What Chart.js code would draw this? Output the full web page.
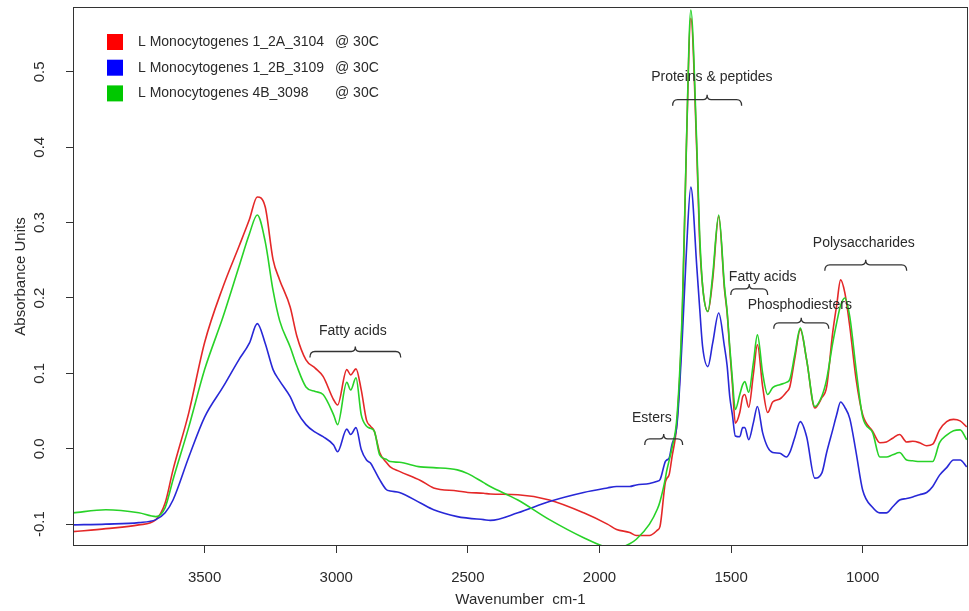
<!DOCTYPE html>
<html lang="en">
<head>
<meta charset="UTF-8">
<title>L Monocytogenes FTIR spectra</title>
<script src="https://cdn.jsdelivr.net/npm/chart.js"></script>
<style>
  html, body { margin: 0; padding: 0; background: #fff; }
  #spectra { display: block; }
</style>
</head>
<body>
<canvas id="spectra" width="969" height="611"></canvas>
<script>
// wavenumbers (cm-1)
const wavenumber = [4000, 3875, 3750, 3685, 3650, 3620, 3560, 3500, 3430, 3370,
  3330, 3300, 3270, 3240, 3215, 3175, 3150, 3115, 3080, 3050,
  3010, 2995, 2960, 2945, 2925, 2905, 2885, 2870, 2855, 2835,
  2810, 2795, 2760, 2680, 2630, 2540, 2500, 2440, 2415, 2310,
  2190, 2060, 1970, 1935, 1885, 1860, 1810, 1780, 1770, 1750,
  1745, 1735, 1725, 1705, 1685, 1670, 1653, 1630, 1620, 1608,
  1588, 1570, 1547, 1525, 1515, 1505, 1495, 1484, 1467, 1456,
  1448, 1433, 1415, 1400, 1380, 1361, 1342, 1315, 1290, 1277,
  1258, 1237, 1213, 1182, 1155, 1137, 1114, 1099, 1084, 1068,
  1049, 1025, 1000, 962, 935, 910, 886, 860, 833, 810,
  784, 757, 734, 708, 681, 655, 630, 605];

const strain2A = [-0.110, -0.106, -0.101, -0.094, -0.072, -0.028, 0.048, 0.141, 0.215, 0.268,
  0.304, 0.334, 0.321, 0.251, 0.224, 0.188, 0.150, 0.118, 0.107, 0.096,
  0.065, 0.058, 0.105, 0.098, 0.106, 0.078, 0.038, 0.030, 0.023, -0.005,
  -0.018, -0.024, -0.030, -0.042, -0.052, -0.056, -0.058, -0.059, -0.060, -0.061,
  -0.068, -0.085, -0.100, -0.107, -0.111, -0.115, -0.115, -0.108, -0.103, -0.045,
  -0.040, -0.034, -0.012, 0.038, 0.180, 0.397, 0.571, 0.391, 0.280, 0.215,
  0.182, 0.224, 0.308, 0.211, 0.180, 0.131, 0.085, 0.034, 0.048, 0.069,
  0.072, 0.055, 0.100, 0.138, 0.082, 0.048, 0.062, 0.066, 0.075, 0.082,
  0.120, 0.158, 0.118, 0.054, 0.068, 0.082, 0.154, 0.190, 0.224, 0.207,
  0.162, 0.092, 0.045, 0.023, 0.008, 0.009, 0.014, 0.019, 0.009, 0.010,
  0.008, 0.004, 0.006, 0.025, 0.036, 0.039, 0.037, 0.029];

const strain2B = [-0.101, -0.100, -0.098, -0.094, -0.085, -0.068, -0.011, 0.042, 0.082, 0.118,
  0.140, 0.166, 0.140, 0.105, 0.090, 0.069, 0.050, 0.032, 0.022, 0.016,
  0.005, -0.004, 0.026, 0.019, 0.028, -0.001, -0.015, -0.019, -0.028, -0.041,
  -0.054, -0.056, -0.058, -0.072, -0.081, -0.090, -0.092, -0.094, -0.095, -0.085,
  -0.070, -0.058, -0.052, -0.050, -0.050, -0.048, -0.046, -0.043, -0.041, -0.017,
  -0.015, -0.012, 0.005, 0.034, 0.150, 0.260, 0.347, 0.240, 0.190, 0.135,
  0.109, 0.140, 0.180, 0.135, 0.110, 0.069, 0.045, 0.017, 0.016, 0.028,
  0.028, 0.012, 0.035, 0.056, 0.021, 0.002, -0.005, -0.006, -0.011, -0.005,
  0.015, 0.036, 0.016, -0.039, -0.032, -0.005, 0.025, 0.045, 0.062, 0.055,
  0.040, -0.005, -0.055, -0.078, -0.085, -0.085, -0.077, -0.068, -0.066, -0.064,
  -0.061, -0.058, -0.050, -0.035, -0.025, -0.015, -0.015, -0.024];

const strain4B = [-0.085, -0.081, -0.085, -0.090, -0.078, -0.041, 0.029, 0.105, 0.175, 0.241,
  0.285, 0.310, 0.275, 0.210, 0.170, 0.135, 0.110, 0.082, 0.076, 0.072,
  0.045, 0.032, 0.088, 0.078, 0.094, 0.045, 0.030, 0.027, 0.023, -0.008,
  -0.014, -0.017, -0.018, -0.024, -0.025, -0.028, -0.033, -0.045, -0.050, -0.068,
  -0.094, -0.118, -0.131, -0.132, -0.126, -0.120, -0.100, -0.080, -0.070, -0.040,
  -0.030, -0.015, 0.000, 0.045, 0.190, 0.400, 0.582, 0.400, 0.290, 0.215,
  0.182, 0.230, 0.310, 0.215, 0.182, 0.135, 0.092, 0.052, 0.072, 0.085,
  0.089, 0.075, 0.115, 0.151, 0.100, 0.072, 0.081, 0.085, 0.088, 0.092,
  0.125, 0.160, 0.118, 0.056, 0.070, 0.092, 0.140, 0.167, 0.190, 0.200,
  0.175, 0.105, 0.042, 0.021, -0.011, -0.011, -0.008, -0.005, -0.015, -0.016,
  -0.017, -0.017, -0.017, 0.008, 0.018, 0.024, 0.025, 0.012];

const seriesNames = ['L Monocytogenes 1_2A_3104 @ 30C',
  'L Monocytogenes 1_2B_3109 @ 30C',
  'L Monocytogenes 4B_3098 @ 30C'];

const xTicks = [1000, 1500, 2000, 2500, 3000, 3500];
const yTicks = [-0.1, 0.0, 0.1, 0.2, 0.3, 0.4, 0.5];

// band labels: text position and bracket span (wavenumber / absorbance)
const bandNames = ['Fatty acids', 'Esters', 'Proteins & peptides', 'Fatty acids', 'Phosphodiesters', 'Polysaccharides'];
const bandTextAt = [[2937, 0.156], [1801, 0.040], [1573, 0.493], [1380, 0.227], [1239, 0.191], [996, 0.273]];
const bandSpan = [[3100, 2755, 0.129], [1828, 1684, 0.013], [1722, 1460, 0.463], [1501, 1361, 0.212], [1338, 1129, 0.167], [1144, 833, 0.244]];

const FONT = "'Liberation Sans', Arial, sans-serif";
const TEXT = '#2a2a2a';

function pts(ys) {
  return wavenumber.map((w, i) => ({ x: w, y: ys[i] }));
}

const frame = {
  id: 'frame',
  afterDatasetsDraw(chart) {
    const { ctx, chartArea: a } = chart;
    ctx.save();
    ctx.strokeStyle = '#333';
    ctx.lineWidth = 1;
    ctx.strokeRect(a.left + 0.5, a.top + 0.5, a.right - a.left - 1, a.bottom - a.top - 1);
    ctx.restore();
  }
};

const bands = {
  id: 'bands',
  afterDatasetsDraw(chart) {
    const { ctx, scales: { x, y } } = chart;
    ctx.save();
    ctx.fillStyle = TEXT;
    ctx.strokeStyle = '#333';
    ctx.lineWidth = 1.3;
    ctx.font = '14px ' + FONT;
    ctx.textAlign = 'center';
    ctx.textBaseline = 'middle';
    bandNames.forEach((name, i) => {
      ctx.fillText(name, x.getPixelForValue(bandTextAt[i][0]), y.getPixelForValue(bandTextAt[i][1]));
      const x1 = x.getPixelForValue(bandSpan[i][0]);
      const x2 = x.getPixelForValue(bandSpan[i][1]);
      const by = y.getPixelForValue(bandSpan[i][2]);
      const xm = (x1 + x2) / 2;
      ctx.beginPath();
      ctx.moveTo(x1, by + 6);
      ctx.quadraticCurveTo(x1, by, x1 + 5, by);
      ctx.lineTo(xm - 4, by);
      ctx.quadraticCurveTo(xm, by, xm, by - 5);
      ctx.quadraticCurveTo(xm, by, xm + 4, by);
      ctx.lineTo(x2 - 5, by);
      ctx.quadraticCurveTo(x2, by, x2, by + 6);
      ctx.stroke();
    });
    ctx.restore();
  }
};

const boxLegend = {
  id: 'boxLegend',
  afterDraw(chart) {
    const ctx = chart.ctx;
    ctx.save();
    ctx.font = '14px ' + FONT;
    ctx.textBaseline = 'middle';
    ctx.textAlign = 'left';
    chart.data.datasets.forEach((ds, i) => {
      const cy = 42 + i * 25.7;
      ctx.fillStyle = ds.legendColor;
      ctx.fillRect(107, cy - 8, 16, 16);
      const parts = ds.label.split(' @ ');
      ctx.fillStyle = TEXT;
      ctx.fillText(parts[0], 138, cy);
      ctx.fillText('@ ' + parts[1], 335, cy);
    });
    ctx.restore();
  }
};

new Chart(document.getElementById('spectra'), {
  type: 'line',
  data: {
    datasets: [
      { label: seriesNames[0], data: pts(strain2A), borderColor: 'rgb(228,40,40)', legendColor: '#ff0000', order: 2 },
      { label: seriesNames[1], data: pts(strain2B), borderColor: 'rgb(40,40,215)', legendColor: '#0000ff', order: 1 },
      { label: seriesNames[2], data: pts(strain4B), borderColor: 'rgb(40,210,40)', legendColor: '#00c800', order: 0 }
    ]
  },
  options: {
    responsive: false,
    animation: false,
    layout: { padding: { top: 7, right: 1, left: 0, bottom: 0 } },
    elements: {
      point: { radius: 0 },
      line: { borderWidth: 1.6, cubicInterpolationMode: 'monotone', fill: false }
    },
    plugins: { legend: { display: false }, tooltip: { enabled: false } },
    scales: {
      x: {
        type: 'linear',
        reverse: true,
        min: 600,
        max: 4000,
        afterBuildTicks: s => { s.ticks = xTicks.map(v => ({ value: v })); },
        afterFit: s => { s.height = 65; s.paddingLeft = 0; s.paddingRight = 0; },
        grid: { display: true, drawOnChartArea: false, drawTicks: true, tickLength: 7, color: '#333' },
        border: { display: false },
        ticks: { color: TEXT, font: { family: FONT, size: 15 }, padding: 16, maxRotation: 0, autoSkip: false, callback: v => String(v) },
        title: { display: true, text: 'Wavenumber  cm-1', color: TEXT, font: { family: FONT, size: 15 }, padding: { top: 0, bottom: 2 } }
      },
      y: {
        min: -0.129,
        max: 0.586,
        afterBuildTicks: s => { s.ticks = yTicks.map(v => ({ value: v })); },
        afterFit: s => { s.width = 73; s.paddingTop = 0; s.paddingBottom = 0; },
        grid: { display: true, drawOnChartArea: false, drawTicks: true, tickLength: 7, color: '#333' },
        border: { display: false },
        ticks: {
          color: TEXT, font: { family: FONT, size: 15 }, padding: 13,
          minRotation: 90, maxRotation: 90, crossAlign: 'center', autoSkip: false,
          callback: v => v.toFixed(1)
        },
        title: { display: true, text: 'Absorbance Units', color: TEXT, font: { family: FONT, size: 15 }, padding: { top: 12, bottom: 0 } }
      }
    }
  },
  plugins: [frame, bands, boxLegend]
});
</script>
</body>
</html>
